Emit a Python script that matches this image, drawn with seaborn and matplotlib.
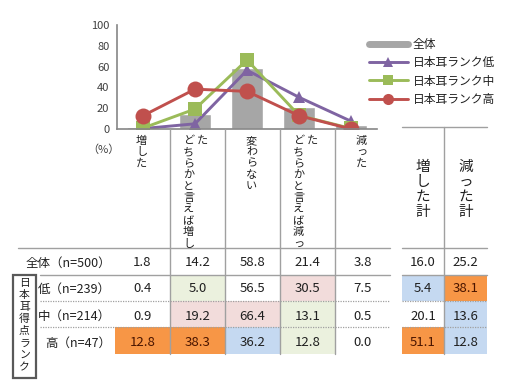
import matplotlib
matplotlib.use('Agg')
import matplotlib.pyplot as plt
import seaborn as sns
from matplotlib.lines import Line2D
from matplotlib.patches import Rectangle

# ---------------- data ----------------
categories = ['増した', 'どちらかと言えば増した', '変わらない', 'どちらかと言えば減った', '減った']
total_vals = [1.8, 14.2, 58.8, 21.4, 3.8]
low_vals = [0.4, 5.0, 56.5, 30.5, 7.5]
mid_vals = [0.9, 19.2, 66.4, 13.1, 0.5]
high_vals = [12.8, 38.3, 36.2, 12.8, 0.0]
series_names = ['全体', '日本耳ランク低', '日本耳ランク中', '日本耳ランク高']
row_labels = ['全体（n=500）', '低（n=239）', '中（n=214）', '高（n=47）']
inc_total = [16.0, 5.4, 20.1, 51.1]
dec_total = [25.2, 38.1, 13.6, 12.8]
sum_headers = ['増した計', '減った計']
group_label = '日本耳得点ランク'
y_ticks = [0, 20, 40, 60, 80, 100]
unit_label = '（%）'

# ---------------- styles ----------------
GRAY = '#a6a6a6'
PURPLE = '#7f64a2'
GREEN = '#9bbb59'
RED = '#c0504d'
W, O, B, P, G = 'white', '#f79646', '#c5d9f1', '#f2dcdb', '#ebf1de'
cell_colors = [[W, W, W, W, W],
               [W, G, W, P, W],
               [W, P, P, G, W],
               [O, O, B, G, W]]
sum_colors = [[W, W], [B, O], [W, B], [O, B]]

sns.set_style('white')
plt.rcParams['font.family'] = ['Noto Sans CJK JP', 'DejaVu Sans']

fig = plt.figure(figsize=(5.12, 3.84), dpi=100)
fig.patch.set_facecolor('white')


def fx(px):
    return px / 512.0


def fy(py):
    return 1.0 - py / 384.0


ax = fig.add_axes([fx(117), fy(129), 260 / 512.0, 104 / 384.0])

sns.barplot(x=categories, y=total_vals, order=categories, color=GRAY,
            width=0.62, errorbar=None, saturation=1, ax=ax, zorder=1)
for vals, col, mk, ms in [(low_vals, PURPLE, '^', 9),
                          (mid_vals, GREEN, 's', 10),
                          (high_vals, RED, 'o', 11.5)]:
    sns.pointplot(x=categories, y=vals, order=categories, color=col,
                  markers=mk, markersize=ms, linewidth=2.1,
                  markeredgewidth=0, errorbar=None, ax=ax)

ax.set_xlim(-0.5, 4.5)
ax.set_ylim(0, 100)
ax.set_yticks(y_ticks)
ax.set_yticklabels([str(t) for t in y_ticks])
ax.set_xticklabels([])
ax.set_xlabel('')
ax.set_ylabel('')
ax.tick_params(axis='x', length=0)
ax.tick_params(axis='y', direction='inout', length=5, width=1, color='#868686',
               labelsize=8, labelcolor='#404040', pad=3)
for s in ['top', 'right']:
    ax.spines[s].set_visible(False)
for s in ['left', 'bottom']:
    ax.spines[s].set_color('#868686')
    ax.spines[s].set_linewidth(1.2)
ax.set_facecolor('none')

fig.text(fx(103), fy(150), unit_label, ha='center', va='center', fontsize=8,
         color='#404040')

# legend
handles = [Line2D([0], [0], color=GRAY, lw=5),
           Line2D([0], [0], color=PURPLE, lw=2.1, marker='^', ms=7, mew=0),
           Line2D([0], [0], color=GREEN, lw=2.1, marker='s', ms=7, mew=0),
           Line2D([0], [0], color=RED, lw=2.1, marker='o', ms=8, mew=0)]
leg = ax.legend(handles, series_names, loc='upper left',
                bbox_to_anchor=(fx(369), fy(38)), bbox_transform=fig.transFigure,
                frameon=False, fontsize=8.5, handlelength=3.3, handletextpad=0.4,
                labelspacing=0.45, borderaxespad=0, borderpad=0)
for t in leg.get_texts():
    t.set_color('#202020')

# ---------------- table ----------------
LINE = '#a0a0a0'


def hline(x0, x1, y, ls='-', lw=1.0, color=LINE):
    fig.add_artist(Line2D([fx(x0), fx(x1)], [fy(y), fy(y)], color=color, lw=lw,
                          ls=ls, transform=fig.transFigure))


def vline(x, y0, y1, lw=1.0, color=LINE):
    fig.add_artist(Line2D([fx(x), fx(x)], [fy(y0), fy(y1)], color=color, lw=lw,
                          transform=fig.transFigure))


def vtext(x, y0, s, step, fs):
    for i, ch in enumerate(s):
        fig.text(fx(x), fy(y0 + i * step), ch, ha='center', va='center',
                 fontsize=fs, color='#202020')


col_edges = [115, 170, 225, 280, 335, 390]
sum_edges = [402, 444, 487]
row_edges = [248, 275, 301, 327, 354]
row_text_y = [263, 289, 316, 343]

# cell backgrounds
for r in range(4):
    for c in range(5):
        if cell_colors[r][c] != W:
            fig.add_artist(Rectangle((fx(col_edges[c]), fy(row_edges[r + 1])),
                                     fx(col_edges[c + 1]) - fx(col_edges[c]),
                                     fy(row_edges[r]) - fy(row_edges[r + 1]),
                                     transform=fig.transFigure,
                                     facecolor=cell_colors[r][c], edgecolor='none',
                                     zorder=0))
    for c in range(2):
        if sum_colors[r][c] != W:
            fig.add_artist(Rectangle((fx(sum_edges[c]), fy(row_edges[r + 1])),
                                     fx(sum_edges[c + 1]) - fx(sum_edges[c]),
                                     fy(row_edges[r]) - fy(row_edges[r + 1]),
                                     transform=fig.transFigure,
                                     facecolor=sum_colors[r][c], edgecolor='none',
                                     zorder=0))

# lines
hline(18, 390, 248)
hline(402, 487, 248)
hline(402, 487, 127)
hline(40, 390, 275)
hline(402, 487, 275)
for y in [301, 327]:
    hline(40, 390, y, ls=(0, (1, 1)), lw=0.9)
    hline(402, 487, y, ls=(0, (1, 1)), lw=0.9)
for x in col_edges[1:-1]:
    vline(x, 129, 354)
vline(444, 127, 354)

# column headers (vertical)
col_centers = [(col_edges[i] + col_edges[i + 1]) / 2 for i in range(5)]
for i, lab in enumerate(categories):
    cx = col_centers[i]
    if len(lab) > 10:
        vtext(cx - 9, 141, lab[:10], 11.4, 8)
        vtext(cx + 5, 141, lab[10:], 11.4, 8)
    else:
        vtext(cx - 1, 141, lab, 11.2, 8)

sum_centers = [(sum_edges[i] + sum_edges[i + 1]) / 2 for i in range(2)]
for i, lab in enumerate(sum_headers):
    vtext(sum_centers[i], 167, lab, 15, 10.5)

# row labels
for r, lab in enumerate(row_labels):
    fig.text(fx(111), fy(row_text_y[r]), lab, ha='right', va='center',
             fontsize=9, color='#202020')

# group box
fig.add_artist(Rectangle((fx(13), fy(378)), fx(36) - fx(13), fy(275) - fy(378),
                         transform=fig.transFigure, facecolor='none',
                         edgecolor='#595959', lw=1.6))
vtext(24.5, 283, group_label, 12.1, 7.8)

# values
table_rows = [total_vals, low_vals, mid_vals, high_vals]
for r, vals in enumerate(table_rows):
    for c, v in enumerate(vals):
        tc = '#4a1500' if cell_colors[r][c] == O else '#202020'
        fig.text(fx(col_centers[c]), fy(row_text_y[r]), f'{v:.1f}', ha='center',
                 va='center', fontsize=9.5, color=tc)
    for c, v in enumerate([inc_total[r], dec_total[r]]):
        tc = '#4a1500' if sum_colors[r][c] == O else '#202020'
        fig.text(fx(sum_centers[c]), fy(row_text_y[r]), f'{v:.1f}', ha='center',
                 va='center', fontsize=9.5, color=tc)

fig.savefig('out.png', dpi=100, facecolor='white')
